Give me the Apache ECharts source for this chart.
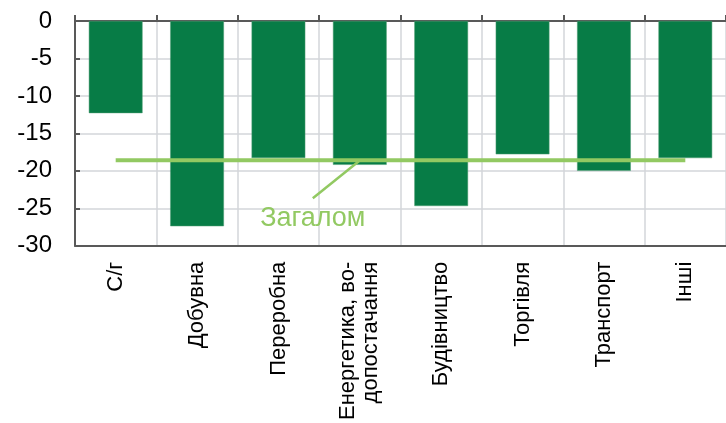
<!DOCTYPE html>
<html>
<head>
<meta charset="utf-8">
<script src="https://cdn.jsdelivr.net/npm/echarts@6/dist/echarts.min.js"></script>
<style>
html,body{margin:0;padding:0;background:#fff;}
#c{width:726px;height:423px;}
</style>
</head>
<body>
<div id="c"></div>
<script>
const categories = ['С/г', 'Добувна', 'Переробна', 'Енергетика, во-\nдопостачання', 'Будівництво', 'Торгівля', 'Транспорт', 'Інші'];
const values = [-12.3, -27.4, -18.3, -19.2, -24.7, -17.8, -20.0, -18.3];
const overall = -18.6;
const overallLine = [overall, overall, overall, overall, overall, overall, overall, overall];
const overallLabel = 'Загалом';
const yTicks = [0, -5, -10, -15, -20, -25, -30];

const FONT = '"Liberation Sans", Arial, sans-serif';
const chart = echarts.init(document.getElementById('c'), null, {renderer: 'canvas'});
const option = {
  animation: false,
  grid: {left: 75, right: -2, top: 21, bottom: 176, containLabel: false},
  xAxis: [
    {
      type: 'category', data: categories, position: 'top',
      axisLine: {show: true, lineStyle: {color: '#595959', width: 2}},
      axisTick: {show: true, inside: false, interval: 0, length: 6, lineStyle: {color: '#595959', width: 2}},
      axisLabel: {show: false, interval: 0},
      splitLine: {show: true, interval: 0, lineStyle: {color: '#d3d6da', width: 1.5}}
    },
    {
      type: 'category', data: categories, position: 'bottom',
      axisLine: {show: true, onZero: false, lineStyle: {color: '#595959', width: 2}},
      axisTick: {show: false},
      axisLabel: {show: true, rotate: 90, interval: 0, margin: 16, color: '#000',
        fontFamily: FONT, fontSize: 22, lineHeight: 23, align: 'right'},
      splitLine: {show: false}
    }
  ],
  yAxis: {
    type: 'value', min: -30, max: 0, interval: 5,
    axisLine: {show: true, lineStyle: {color: '#595959', width: 2}},
    axisTick: {show: true, inside: true, length: 5, lineStyle: {color: '#595959', width: 2}},
    axisLabel: {color: '#000', fontFamily: FONT, fontSize: 24, margin: 23,
      formatter: v => yTicks.includes(v) ? String(v) : ''},
    splitLine: {show: true, lineStyle: {color: '#d3d6da', width: 1.5}}
  },
  series: [
    {
      type: 'bar', data: values, xAxisIndex: 0, barWidth: '66%',
      itemStyle: {color: '#077c46', borderColor: '#4f9d73', borderWidth: 0.5}
    },
    {
      type: 'line', data: overallLine, xAxisIndex: 0, symbol: 'none',
      lineStyle: {color: '#92c962', width: 4}, z: 5
    }
  ]
};
chart.setOption(option);

const p = chart.convertToPixel({xAxisIndex: 0, yAxisIndex: 0}, [3, overall]);
chart.setOption({
  graphic: [
    {type: 'line', z: 10, shape: {x1: p[0] - 1, y1: p[1] + 1, x2: p[0] - 47, y2: p[1] + 38},
      style: {stroke: '#92c962', lineWidth: 2.5}},
    {type: 'text', z: 10, x: p[0] - 47, y: p[1] + 58,
      style: {text: overallLabel, fill: '#92c962', font: '27px ' + FONT, align: 'center', verticalAlign: 'middle'}}
  ]
});
</script>
</body>
</html>
